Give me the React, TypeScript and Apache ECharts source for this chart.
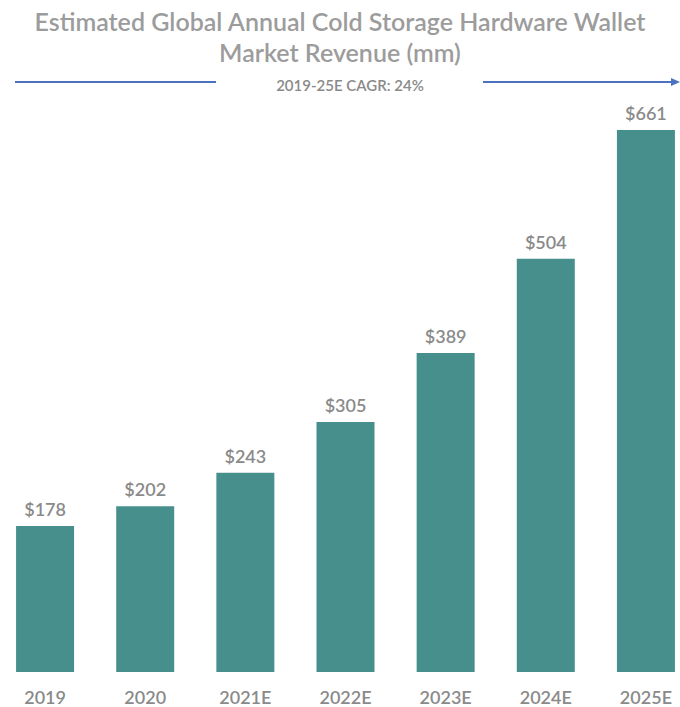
import React, { useEffect, useRef } from "react";
import * as echarts from "echarts";

const categories = ["2019", "2020", "2021E", "2022E", "2023E", "2024E", "2025E"];
const revenue = [178, 202, 243, 305, 389, 504, 661];
const titleLines = ["Estimated Global Annual Cold Storage Hardware Wallet", "Market Revenue (mm)"];
const cagrLabel = "2019-25E CAGR: 24%";

export default function App() {
  const ref = useRef<HTMLDivElement>(null);
  useEffect(() => {
    if (!ref.current) return;
    const chart = echarts.init(ref.current, null, { renderer: "svg" });
    const font = "Lato, 'Open Sans', sans-serif";
    chart.setOption({
      animation: false,
      backgroundColor: "#ffffff",
      title: {
        text: titleLines.join("\n"),
        left: "center",
        top: 0,
        textStyle: { fontFamily: font, fontSize: 25, fontWeight: 600, color: "#9c9c9c", lineHeight: 31 },
      },
      graphic: [
        { type: "line", shape: { x1: 15, y1: 82, x2: 216, y2: 82 }, style: { stroke: "#4a72c0", lineWidth: 2 } },
        { type: "line", shape: { x1: 483, y1: 82, x2: 672, y2: 82 }, style: { stroke: "#4a72c0", lineWidth: 2 } },
        { type: "polygon", shape: { points: [[680, 82], [671, 78], [671, 86]] }, style: { fill: "#4a72c0" } },
        {
          type: "text",
          x: 350,
          y: 85,
          style: { text: cagrLabel, fontFamily: font, fontSize: 15, fontWeight: 600, fill: "#8a8a8a", align: "center", verticalAlign: "middle" },
        },
      ],
      grid: { left: -5, width: 701, top: 16, bottom: 35, containLabel: false, outerBoundsMode: "none" },
      xAxis: {
        type: "category",
        data: categories,
        axisLine: { show: false },
        axisTick: { show: false },
        axisLabel: { fontFamily: font, fontSize: 18, fontWeight: 600, color: "#8a8a8a", margin: 16 },
      },
      yAxis: { type: "value", min: 0, max: 800, show: false, splitLine: { show: false } },
      series: [
        {
          type: "bar",
          data: revenue,
          barWidth: 58,
          itemStyle: { color: "#468f8c" },
          label: {
            show: true,
            position: "top",
            distance: 8,
            formatter: (p: any) => "$" + p.value,
            fontFamily: font,
            fontSize: 18,
            fontWeight: 600,
            color: "#8a8a8a",
          },
        },
      ],
    });
    return () => chart.dispose();
  }, []);
  return <div ref={ref} style={{ width: 680, height: 707, position: "absolute", left: 0, top: 0 }} />;
}
